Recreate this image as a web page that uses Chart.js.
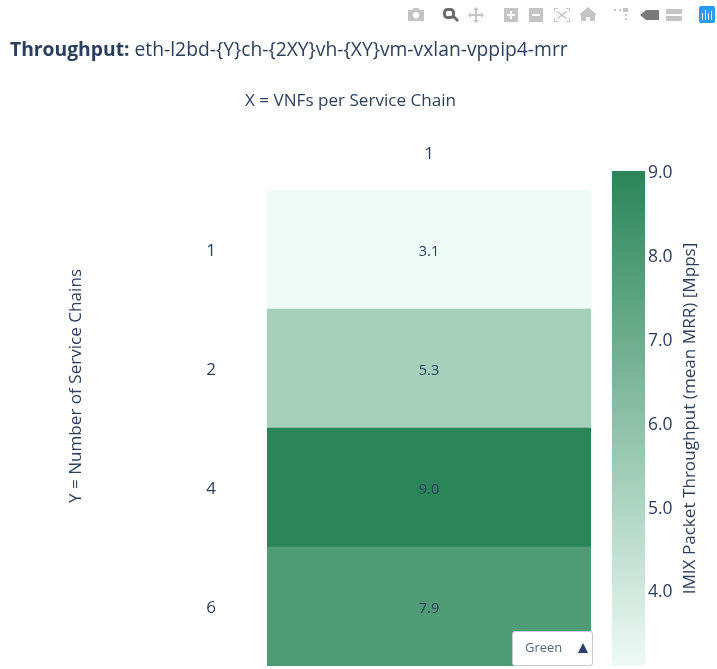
<!DOCTYPE html>
<html>
<head>
<meta charset="utf-8">
<script src="https://cdn.jsdelivr.net/npm/chart.js@4"></script>
<style>
  html, body { margin: 0; padding: 0; background: #fff; overflow: hidden; }
  body { width: 717px; height: 669px; position: relative; font-family: "Open Sans", sans-serif; }
  canvas { position: absolute; left: 0; top: 0; }
  #heading { position: absolute; left: 10px; top: 35px; font-size: 19.3px; line-height: 28px; color: #2a3f5f; white-space: nowrap; }
  #toolbar { position: absolute; left: 0; top: 0; }
  #picker { position: absolute; left: 512px; top: 631px; width: 79px; height: 33px;
    background: #fff; border: 1px solid #c3cbdc; border-radius: 3px; color: #506784; font-size: 13px; line-height: 31px; }
  #picker span { position: absolute; left: 12px; }
  #picker i { position: absolute; right: 4px; top: 11px; width: 0; height: 0;
    border-left: 5px solid transparent; border-right: 5px solid transparent; border-bottom: 10px solid #2a3f6f; }
</style>
</head>
<body>
<canvas id="heat" width="717" height="669"></canvas>
<canvas id="bar" width="717" height="669"></canvas>
<div id="heading"><b>Throughput:</b> eth-l2bd-{Y}ch-{2XY}vh-{XY}vm-vxlan-vppip4-mrr</div>

<svg id="toolbar" width="717" height="30" fill="#c4c4c4">
  <!-- camera -->
  <path d="M408 10h4l1.500-2h5l1.500 2h4v11h-16z M416 12a3.200 3.200 0 1 0 .01 0z" fill-rule="evenodd"/>
  <!-- zoom, active -->
  <rect x="444.500" y="9.500" width="9" height="8" rx="3" fill="none" stroke="#6b6b6b" stroke-width="3"/>
  <path d="M452 17l2-2 5 5-2 2z" fill="#6b6b6b"/>
  <!-- pan -->
  <path d="M476 7l3 3h-2v4h4v-2l3 3-3 3v-2h-4v4h2l-3 3-3-3h2v-4h-4v2l-3-3 3-3v2h4v-4h-2z"/>
  <!-- zoom in, zoom out -->
  <path d="M504 8h14v14h-14z M510 11v3h-3v2h3v3h2v-3h3v-2h-3v-3z" fill-rule="evenodd"/>
  <path d="M529 8h14v14h-14z M532 14v2h8v-2z" fill-rule="evenodd"/>
  <!-- autoscale -->
  <path d="M554 8h4v1h-3v3h-1z M566 8h4v4h-1v-3h-3z M554 18h1v3h3v1h-4z M569 18h1v4h-4v-1h3z M558 11l4 3 4-3 1 1-4 3 4 3-1 1-4-3-4 3-1-1 4-3-4-3z"/>
  <!-- home -->
  <path d="M588 7l9 8h-2v6h-5v-4h-4v4h-5v-6h-2z"/>
  <!-- spikes -->
  <path d="M614 9h2v2h-2z M619 9h2v2h-2z M623 8h5v4h-5z M625 14h2v2h-2z M625 18h2v2h-2z"/>
  <!-- hover closest -->
  <path d="M640 15l6-5h13v10h-13z" fill="#7a7a7a"/>
  <!-- hover compare -->
  <path d="M666 9h16v5h-16z M666 16h16v5h-16z"/>
  <!-- logo -->
  <rect x="699" y="6" width="16" height="17" rx="2" fill="#2b9bf0"/>
  <path d="M702 13h1v7h-1z M705 10h1v10h-1z M708 13h1v7h-1z M711 11h1v9h-1z" fill="#fff"/>
</svg>

<div id="picker"><span>Green</span><i></i></div>

<script>
// data
const chains = ['1', '2', '4', '6'];
const vnfs = [1];
const throughput = [3.1, 5.3, 9.0, 7.9];
const barTicks = [4, 5, 6, 7, 8, 9];

const xTitle = 'X = VNFs per Service Chain';
const yTitle = 'Y = Number of Service Chains';
const barTitle = 'IMIX Packet Throughput (mean MRR) [Mpps]';

const textColor = '#2a3f5f';
const lowColor = [238, 250, 246];
const highColor = [42, 133, 88];

const low = Math.min(...throughput);
const high = Math.max(...throughput);

function colorFor(v) {
  const t = (v - low) / (high - low);
  const c = lowColor.map((l, i) => Math.round(l + (highColor[i] - l) * t));
  return 'rgb(' + c.join(',') + ')';
}

// plotly puts its axis titles off centre, so these are drawn by hand
function drawTitle(ctx, text, x, y, rotated) {
  ctx.save();
  ctx.translate(x, y);
  if (rotated) ctx.rotate(-Math.PI / 2);
  ctx.font = '17.1px "Open Sans"';
  ctx.fillStyle = textColor;
  ctx.textAlign = 'center';
  ctx.textBaseline = 'middle';
  ctx.fillText(text, 0, 0);
  ctx.restore();
}

// value text in the middle of each cell, plus the two axis titles
const cellText = {
  id: 'cellText',
  afterDatasetsDraw(chart) {
    const ctx = chart.ctx;
    const x = chart.scales.x.getPixelForValue(vnfs[0]);
    ctx.save();
    ctx.font = '14.5px "Open Sans"';
    ctx.fillStyle = textColor;
    ctx.textAlign = 'center';
    ctx.textBaseline = 'middle';
    throughput.forEach((v, i) => {
      ctx.fillText(v.toFixed(1), x, chart.scales.y.getPixelForValue(i) + 2);
    });
    ctx.restore();
    drawTitle(ctx, xTitle, 350.5, 101, false);
    drawTitle(ctx, yTitle, 76, 386, true);
  }
};

new Chart(document.getElementById('heat').getContext('2d'), {
  type: 'bar',
  data: {
    labels: chains,
    datasets: [{
      data: throughput.map(() => [vnfs[0] - 0.5, vnfs[0] + 0.5]),
      backgroundColor: throughput.map(colorFor),
      barPercentage: 1,
      categoryPercentage: 1,
      borderWidth: 0
    }]
  },
  options: {
    indexAxis: 'y',
    responsive: false,
    animation: false,
    layout: { padding: { left: 64, right: 126, top: 88, bottom: 3 } },
    plugins: { legend: { display: false }, tooltip: { enabled: false } },
    scales: {
      x: {
        position: 'top',
        min: vnfs[0] - 0.5,
        max: vnfs[0] + 0.5,
        afterBuildTicks(axis) { axis.ticks = vnfs.map(v => ({ value: v })); },
        afterFit(axis) { axis.height = 102; axis.paddingLeft = 0; axis.paddingRight = 0; },
        grid: { display: false, drawTicks: false },
        border: { display: false },
        ticks: { color: textColor, font: { family: 'Open Sans', size: 17 }, padding: 26, maxRotation: 0 }
      },
      y: {
        afterFit(axis) { axis.width = 203; axis.paddingTop = 0; axis.paddingBottom = 0; },
        grid: { display: false, drawTicks: false },
        border: { display: false },
        ticks: { color: textColor, font: { family: 'Open Sans', size: 17 }, padding: 51, labelOffset: 2 }
      }
    }
  },
  plugins: [cellText]
});

// colour bar, gradient follows its own value scale
function barGradient(context) {
  const area = context.chart.chartArea;
  if (!area) return colorFor(high);
  const g = context.chart.ctx.createLinearGradient(0, area.bottom, 0, area.top);
  g.addColorStop(0, colorFor(low));
  g.addColorStop(1, colorFor(high));
  return g;
}

const barLabel = {
  id: 'barLabel',
  afterDraw(chart) {
    const mid = (chart.chartArea.top + chart.chartArea.bottom) / 2;
    drawTitle(chart.ctx, barTitle, 690, mid, true);
  }
};

new Chart(document.getElementById('bar').getContext('2d'), {
  type: 'bar',
  data: {
    labels: ['scale'],
    datasets: [{
      data: [[low, high]],
      backgroundColor: barGradient,
      barPercentage: 1,
      categoryPercentage: 1,
      borderWidth: 0
    }]
  },
  options: {
    responsive: false,
    animation: false,
    layout: { padding: { left: 612, right: 0, top: 171, bottom: 3 } },
    plugins: { legend: { display: false }, tooltip: { enabled: false } },
    scales: {
      x: { display: false },
      y: {
        position: 'right',
        min: low,
        max: high,
        afterBuildTicks(axis) { axis.ticks = barTicks.map(v => ({ value: v })); },
        afterFit(axis) { axis.width = 72; axis.paddingTop = 0; axis.paddingBottom = 0; },
        grid: { display: false, drawTicks: false },
        border: { display: false },
        ticks: {
          color: textColor,
          font: { family: 'Open Sans', size: 17.5 },
          padding: 3,
          labelOffset: 2,
          callback: v => v.toFixed(1)
        }
      }
    }
  },
  plugins: [barLabel]
});
</script>
</body>
</html>
